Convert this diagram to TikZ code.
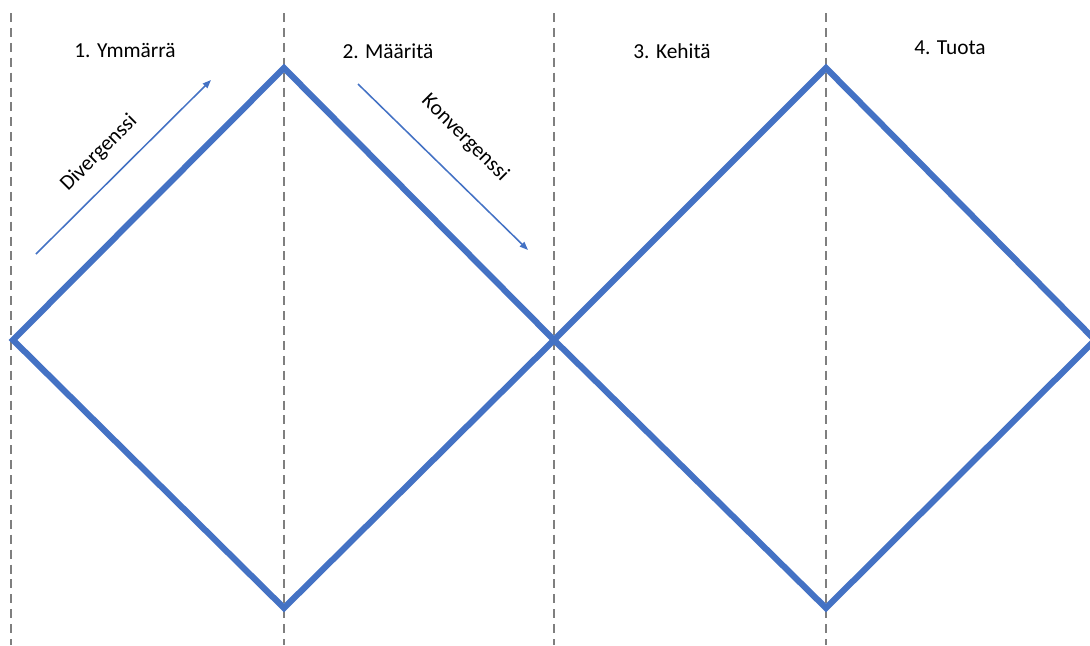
\documentclass[tikz,border=0pt]{standalone}
\usepackage{fontspec}
\setmainfont{Carlito}
\usetikzlibrary{arrows.meta}
\definecolor{diamondblue}{HTML}{4472C4}
\definecolor{phasegray}{HTML}{7F7F7F}

\begin{document}
\begin{tikzpicture}[
      x=0.025cm, y=-0.025cm,
      every node/.style={font=\fontsize{15.2}{17}\selectfont, inner sep=1pt},
      phaseline/.style={
        draw=phasegray,
        line width=1.3pt,
        dash pattern=on 6.4pt off 4.2pt
      },
      diamondline/.style={
        draw=diamondblue,
        line width=4.4pt,
        line join=miter
      },
      flowarrow/.style={
        -{Triangle[length=6pt,width=4.5pt]},
        draw=diamondblue,
        line width=1.1pt
      }
    ]
      \useasboundingbox (0,0) rectangle (1090,645);
      \clip (0,0) rectangle (1090,645);
      % phase separators
      \foreach \px/\name in {11/s0, 284/s1, 554/s2, 826/s3} {
        \coordinate (\name top) at (\px,13);
        \coordinate (\name bot) at (\px,645);
        \draw[phaseline] (\name top) -- (\name bot);
      }
      % diamonds
      \coordinate (d1l) at (13,340);
      \coordinate (d1t) at (284,68);
      \coordinate (d1r) at (554,340);
      \coordinate (d1b) at (284,608);
      \coordinate (d2t) at (826,68);
      \coordinate (d2r) at (1095,340);
      \coordinate (d2b) at (826,608);
      \draw[diamondline] (d1l) -- (d1t) -- (d1r) -- (d1b) -- cycle;
      \draw[diamondline] (d1r) -- (d2t) -- (d2r) -- (d2b) -- cycle;
      % phase titles
      \node (ymmarra) at (125,51) {1. Ymmärrä};
      \node (maarita) at (388,51) {2. Määritä};
      \node (kehita) at (672,51) {3. Kehitä};
      \node (tuota) at (950,48) {4. Tuota};
      % divergence / convergence
      \coordinate (divstart) at (36,254);
      \coordinate (divend) at (211,80);
      \coordinate (konstart) at (358,84);
      \coordinate (konend) at (528,250);
      \draw[flowarrow] (divstart) -- (divend);
      \draw[flowarrow] (konstart) -- (konend);
      \node[rotate=45] (divlabel) at (99,153) {Divergenssi};
      \node[rotate=-45] (konlabel) at (465,138) {Konvergenssi};
    \end{tikzpicture}
\end{document}
